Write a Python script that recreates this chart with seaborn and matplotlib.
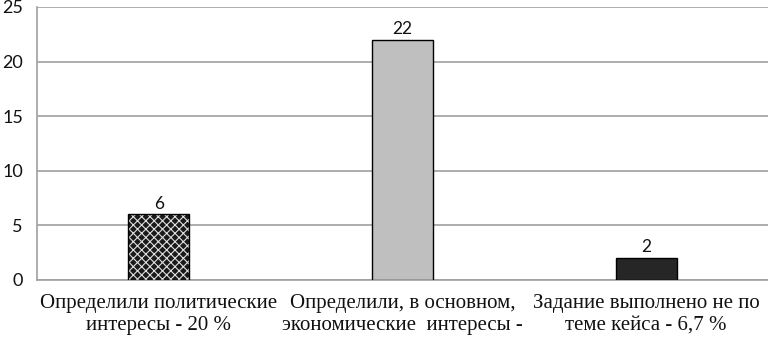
import matplotlib
matplotlib.use("Agg")
import matplotlib.pyplot as plt
import matplotlib.patches as mpatches
import seaborn as sns
import pandas as pd

# data
categories = [
    "Определили политические\nинтересы - 20 %",
    "Определили, в основном,\nэкономические  интересы -",
    "Задание выполнено не по\nтеме кейса - 6,7 %",
]
values = [6, 22, 2]
bar_colors = ["#1a1a1a", "#bfbfbf", "#262626"]
y_ticks = [0, 5, 10, 15, 20, 25]

df = pd.DataFrame({"category": categories, "value": values})

sns.set_style("white")
plt.rcParams["font.family"] = ["Lato", "DejaVu Sans"]
plt.rcParams["hatch.linewidth"] = 0.8

fig = plt.figure(figsize=(7.68, 3.4), dpi=100)
ax = fig.add_axes([0.048, 0.1765, 0.952, 0.8030])

sns.barplot(data=df, x="category", y="value", hue="category",
            palette=bar_colors, width=0.25, legend=False, ax=ax,
            edgecolor="black", linewidth=1.0, zorder=3)

# checkered fill for the first bar: white hatch on black, then black outline
p = ax.patches[0]
p.set_edgecolor("#e0e0e0")
p.set_hatch("xxxx")
p.set_linewidth(0)
ax.add_patch(mpatches.Rectangle(p.get_xy(), p.get_width(), p.get_height(),
                                fill=False, edgecolor="black", linewidth=1.0, zorder=4))

for i, v in enumerate(values):
    ax.annotate(str(v), (i, v), xytext=(0, 2), textcoords="offset points",
                ha="center", va="bottom", fontsize=12.5, color="#111111")

ax.set_ylim(0, 25)
ax.set_xlim(-0.5, 2.5)
ax.set_yticks(y_ticks)
ax.yaxis.grid(True, color="#a0a0a0", linewidth=1.2, zorder=0)
ax.tick_params(axis="y", labelsize=13, length=0, pad=10, labelcolor="#111111")
ax.tick_params(axis="x", length=0, pad=10)
for lab in ax.get_xticklabels():
    lab.set_fontfamily("Liberation Serif")
    lab.set_fontsize(15)
    lab.set_color("#111111")
    lab.set_linespacing(1.2)

for side in ["top", "right"]:
    ax.spines[side].set_visible(False)
ax.spines["left"].set_color("#a0a0a0")
ax.spines["bottom"].set_color("#a0a0a0")
ax.spines["left"].set_linewidth(1.2)
ax.spines["bottom"].set_linewidth(1.2)
ax.set_xlabel("")
ax.set_ylabel("")

fig.savefig("out.png", dpi=100)
